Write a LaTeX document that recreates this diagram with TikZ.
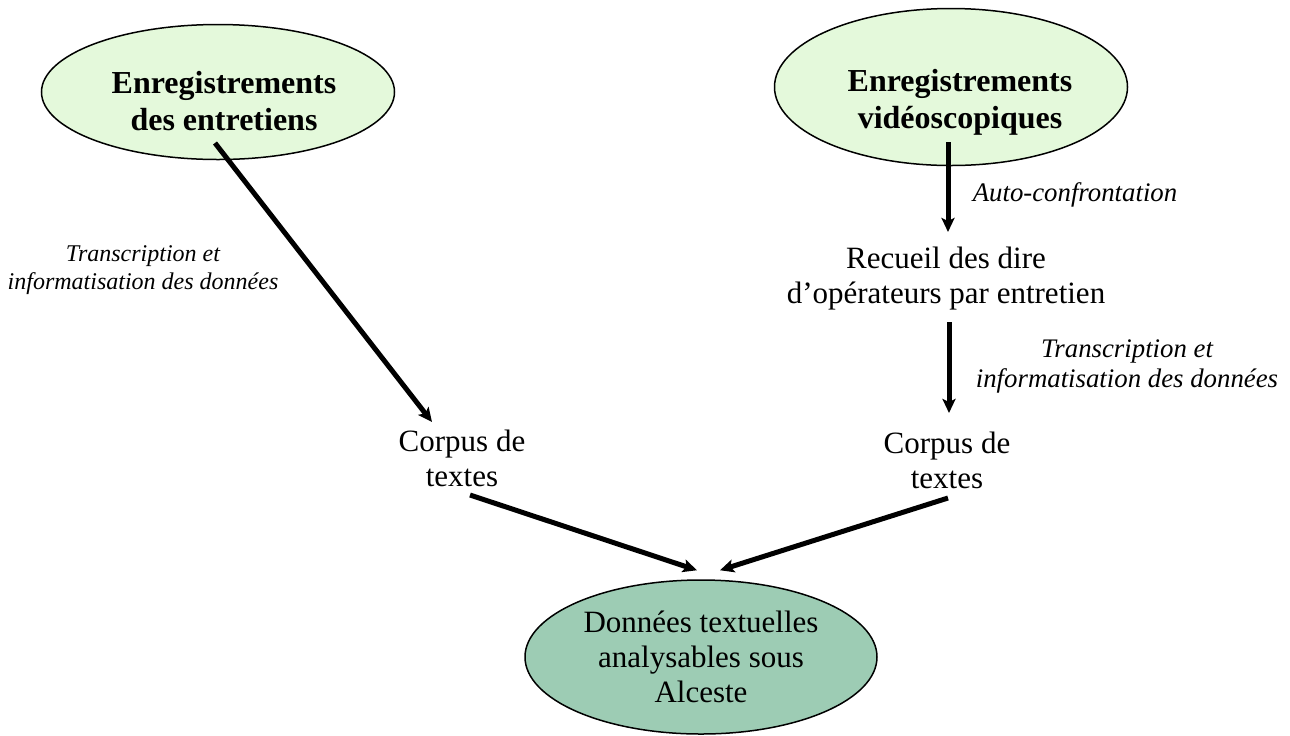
\documentclass[tikz,border=0pt]{standalone}
\usepackage{fontspec}
\setmainfont{Liberation Serif}
\usetikzlibrary{arrows.meta, shapes.geometric, positioning, calc}
\definecolor{paleGreen}{RGB}{228,249,219}
\definecolor{sageGreen}{RGB}{157,204,180}

\begin{document}
\begin{tikzpicture}[x=0.5pt, y=-0.5pt,
  topell/.style={draw, ellipse, fill=paleGreen, line width=0.75pt, minimum width=176.5pt, inner sep=0pt},
  headtxt/.style={align=center, inner sep=0pt, font=\fontsize{16}{18.5}\selectfont\bfseries},
  plaintxt/.style={align=center, inner sep=0pt, font=\fontsize{15.5}{17.5}\selectfont},
  notetxt/.style={align=center, inner sep=0pt, font=\fontsize{13.4}{15}\selectfont\itshape},
  flow/.style={line width=2.5pt, -{Stealth[length=7pt, width=6.5pt, inset=1.5pt]}}]
\useasboundingbox (0,0) rectangle (1290,735);

% Sources
\node[topell, minimum height=67.5pt] (ellA) at (218,92) {};
\node[headtxt] (entA) at (224,101) {Enregistrements\\des entretiens};
\node[topell, minimum height=78.5pt] (ellB) at (951,87) {};
\node[headtxt] (entB) at (960,102) {Enregistrements\\vidéoscopiques};

% Intermediate texts
\node[plaintxt] (recueil) at (946,279) {Recueil des dire\\d’opérateurs par entretien};
\node[plaintxt] (corpA) at (462,458) {Corpus de\\textes};
\node[plaintxt] (corpB) at (947,460) {Corpus de\\textes};

% Result
\node[draw, ellipse, fill=sageGreen, line width=0.75pt, minimum width=176pt, minimum height=77pt,
      inner sep=0pt, plaintxt] (alceste) at (701,657) {Données textuelles\\analysables sous\\Alceste};

% Step labels
\node[notetxt, font=\fontsize{12}{14}\selectfont\itshape] (transA) at (143,270) {Transcription et\\informatisation des données};
\node[notetxt] (autoconf) at (1075,195) {Auto-confrontation};
\node[notetxt] (transB) at (1127,366) {Transcription et\\informatisation des données};

% Arrows
\draw[flow] ($(entA)+(-9,42)$) -- ($(corpA)+(-30,-36)$);
\draw[flow] ($(entB)+(-12,40)$) -- ($(recueil)+(2,-47)$);
\draw[flow] ($(recueil)+(3,43)$) -- ($(corpB)+(2,-47)$);
\draw[flow] ($(corpA)+(8,37)$) -- ($(alceste.north)+(-4,-9)$);
\draw[flow] ($(corpB)+(1,38)$) -- ($(alceste.north)+(19,-9)$);
\end{tikzpicture}
\end{document}
